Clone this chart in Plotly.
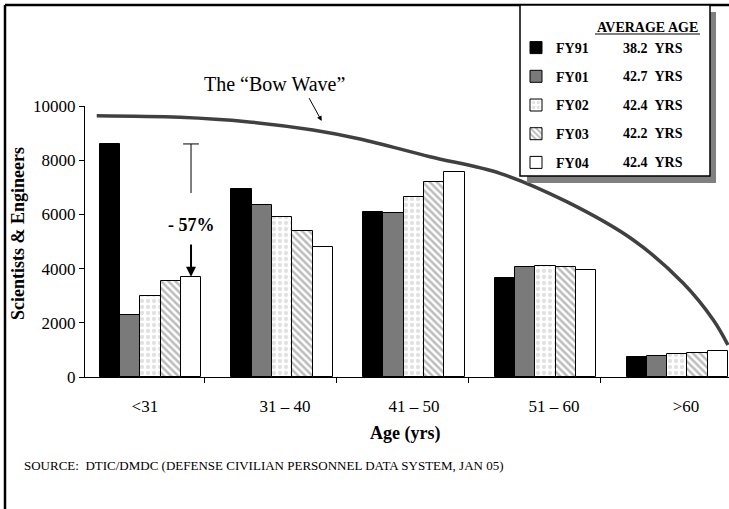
import plotly.graph_objects as go

categories = ["<31", "31 – 40", "41 – 50", "51 – 60", ">60"]
years = ["FY91", "FY01", "FY02", "FY03", "FY04"]
avg_age = ["38.2", "42.7", "42.4", "42.2", "42.4"]
fy91 = [8600, 6950, 6100, 3640, 740]
fy01 = [2300, 6350, 6040, 4050, 790]
fy02 = [3000, 5900, 6650, 4080, 840]
fy03 = [3550, 5400, 7200, 4050, 870]
fy04 = [3700, 4800, 7550, 3960, 950]
series = [fy91, fy01, fy02, fy03, fy04]

# the hand-drawn "bow wave" curve, read in data units
bow_x = [-0.322, 0.310, 0.817, 1.320, 1.677, 2.208, 2.740, 3.246, 3.752, 4.132, 4.360, 4.471]
bow_y = [9642, 9583, 9421, 9114, 8782, 8129, 7517, 6469, 5055, 3458, 2103, 1181]

W, H = 729, 509
L, R, T, B = 85, 729, 106, 377
FONT = "Liberation Serif"


def px(p):
    return (p - L) / (R - L)


def py(p):
    return (B - p) / (B - T)


bar_w = 0.154
base_off = -0.299
xpos = list(range(len(categories)))
label_pos = [0.044, 1.107, 2.087, 3.150, 4.152]

styles = [
    dict(color="black"),
    dict(color="#7a7a7a"),
    dict(color="white", pattern=dict(shape=".", fgcolor="#c4c4c4", bgcolor="white", size=6, solidity=0.4)),
    dict(color="white", pattern=dict(shape="\\", fgcolor="#7a7a7a", bgcolor="white", size=5, solidity=0.5)),
    dict(color="white"),
]

fig = go.Figure()
for k, (name, vals, st) in enumerate(zip(years, series, styles)):
    marker = dict(line=dict(color="black", width=1), **st)
    fig.add_trace(go.Bar(
        x=xpos, y=vals, name="<b>" + name + "</b>",
        offset=base_off + k * bar_w, width=bar_w,
        marker=marker, legendgroup=name,
    ))

fig.add_trace(go.Scatter(
    x=bow_x, y=bow_y, mode="lines", line=dict(color="#404040", width=3.5, shape="spline"),
    showlegend=False, hoverinfo="skip",
))

shapes = []
annotations = []


def note(text, x, y, size, xanchor="center", yanchor="middle", **kw):
    annotations.append(dict(text=text, xref="paper", yref="paper", x=px(x), y=py(y),
                            xanchor=xanchor, yanchor=yanchor, showarrow=False,
                            font=dict(family=FONT, size=size, color="black"), **kw))


# outer frame
shapes.append(dict(type="line", xref="paper", yref="paper", x0=px(5), x1=px(729), y0=py(5), y1=py(5),
                   line=dict(color="black", width=2.5)))
shapes.append(dict(type="line", xref="paper", yref="paper", x0=px(5), x1=px(5), y0=py(5), y1=py(509),
                   line=dict(color="black", width=2.5)))

# legend box + shadow
shapes.append(dict(type="rect", xref="paper", yref="paper", x0=px(527), x1=px(716), y0=py(12), y1=py(183),
                   fillcolor="#808080", line=dict(width=0), layer="above"))
shapes.append(dict(type="rect", xref="paper", yref="paper", x0=px(520), x1=px(710), y0=py(5), y1=py(176),
                   fillcolor="white", line=dict(color="black", width=1.5), layer="above"))
shapes.append(dict(type="line", xref="paper", yref="paper", x0=px(595), x1=px(700), y0=py(34), y1=py(34),
                   line=dict(color="black", width=1.2), layer="above"))
note("<b>AVERAGE AGE</b>", 647.5, 28, 14)
row_y = [48, 76.5, 105, 133.5, 162]
for a, ry in zip(avg_age, row_y):
    note("<b>" + a + "\u00a0\u00a0YRS</b>", 621, ry, 14, xanchor="left")

# drop annotation for <31
x_ann = 0 + base_off + 4 * bar_w + bar_w / 2
cap = 0.06
shapes.append(dict(type="line", xref="x", yref="y", x0=x_ann - cap, x1=x_ann + cap, y0=fy91[0], y1=fy91[0],
                   line=dict(color="black", width=1)))
shapes.append(dict(type="line", xref="x", yref="y", x0=x_ann, x1=x_ann, y0=fy91[0], y1=6790,
                   line=dict(color="black", width=1)))
pct = round((fy04[0] - fy91[0]) / fy91[0] * 100)
annotations.append(dict(text="<b>- %d%%</b>" % abs(pct), x=x_ann, y=5610, xref="x", yref="y",
                        xanchor="center", yanchor="middle",
                        showarrow=False, font=dict(family=FONT, size=18, color="black")))
annotations.append(dict(text="", x=x_ann, y=fy04[0], xref="x", yref="y", axref="x", ayref="y",
                        ax=x_ann, ay=4945, showarrow=True, arrowhead=2, arrowsize=1, arrowwidth=2,
                        arrowcolor="black"))

# bow wave label
note("The “Bow Wave”", 274, 84, 20)
annotations.append(dict(text="", xref="paper", yref="paper", x=px(321.7), y=py(121), ax=-13.4, ay=-24.3,
                        showarrow=True, arrowhead=2, arrowsize=1, arrowwidth=1, arrowcolor="black"))

# axis titles and source
note("<b>Scientists & Engineers</b>", 18, 234, 18, textangle=-90)
note("<b>Age (yrs)</b>", 405, 433, 18)
note("SOURCE:\u00a0\u00a0DTIC/DMDC (DEFENSE CIVILIAN PERSONNEL DATA SYSTEM, JAN 05)", 22, 465, 13,
     xanchor="left")

fig.update_layout(
    width=W, height=H,
    margin=dict(l=L, r=W - R, t=T, b=H - B, pad=0),
    paper_bgcolor="white", plot_bgcolor="white",
    barmode="overlay", bargap=0,
    showlegend=True,
    legend=dict(x=px(516), y=py(32), xanchor="left", yanchor="top", bgcolor="rgba(0,0,0,0)",
                borderwidth=0, font=dict(family=FONT, size=14, color="black"),
                traceorder="grouped", tracegroupgap=7.5),
    shapes=shapes, annotations=annotations,
    xaxis=dict(range=[-0.411, 4.479], tickmode="array", tickvals=label_pos, ticktext=categories,
               ticks="outside", ticklen=14, tickcolor="rgba(0,0,0,0)",
               minor=dict(tickmode="array", tickvals=[0.5, 1.5, 2.5, 3.5], ticks="outside", ticklen=5,
                          tickcolor="black", showgrid=False),
               showline=True, linecolor="black", linewidth=1, showgrid=False, zeroline=False,
               tickfont=dict(family=FONT, size=17, color="black"), fixedrange=True),
    yaxis=dict(range=[0, 10000], tickvals=[0, 2000, 4000, 6000, 8000, 10000], tickformat="d",
               ticks="outside", ticklen=5, tickcolor="black",
               showline=True, linecolor="black", linewidth=1, showgrid=False, zeroline=False,
               tickfont=dict(family=FONT, size=17, color="black"), fixedrange=True),
)

fig.write_html("out.html")
